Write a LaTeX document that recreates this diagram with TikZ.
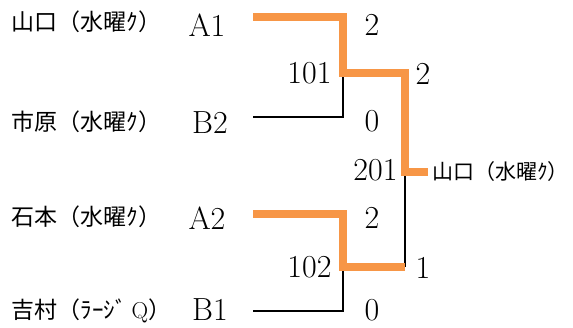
\documentclass[tikz,border=0pt]{standalone}
\usepackage{fontspec}
\newfontfamily\jp{Noto Sans CJK JP}
\definecolor{winorange}{HTML}{F79646}
\tikzset{
  player/.style={anchor=west,font=\jp\fontsize{23}{27}\selectfont},
  seed/.style={font=\fontsize{32}{36}\selectfont},
  score/.style={font=\fontsize{32}{36}\selectfont},
  matchno/.style={anchor=east,font=\fontsize{32}{36}\selectfont},
  lost/.style={line width=1.5pt,black},
  won/.style={line width=7.5pt,winorange,line join=miter},
  wonshadow/.style={line width=7.5pt,black!30,opacity=0.5,shift={(1.5,2)}}
}
\begin{document}
\begin{tikzpicture}[x=1pt,y=-1pt]
      \useasboundingbox (0,0) rectangle (573,327);
      \draw
        (8,22) node[player] (p1){山口（水曜ｸ）}
        (8,122) node[player] (p2){市原（水曜ｸ）}
        (8,217) node[player] (p3){石本（水曜ｸ）}
        (8,311) node[player] (p4){吉村（ﾗｰｼﾞ \textrm{Q}）}
        (207,25) node[seed] (A1){A1}
        (210,123) node[seed] (B2){B2}
        (207,218) node[seed] (A2){A2}
        (210,310) node[seed] (B1){B1}
        (372,25) node[score] (s1){2}
        (372,121) node[score] (s2){0}
        (372,218) node[score] (s3){2}
        (372,310) node[score] (s4){0}
        (423,74) node[score] (s5){2}
        (423,268) node[score] (s6){1}
        (335,73) node[matchno] (m101){101}
        (335,267) node[matchno] (m102){102}
        (401,170) node[matchno] (m201){201}
        (431,172) node[player,inner sep=1pt,font=\jp\fontsize{21}{25}\selectfont] (champ){山口（水曜ｸ）};
      % bracket points
      \coordinate (a1) at (253,17);
      \coordinate (b2) at (253,117);
      \coordinate (a2) at (253,214);
      \coordinate (b1) at (253,311);
      \coordinate (c1) at (343,17);
      \coordinate (c2) at (343,117);
      \coordinate (c3) at (343,214);
      \coordinate (c4) at (343,311);
      \coordinate (j101) at (343,73);
      \coordinate (j102) at (343,267);
      \coordinate (k1) at (405,73);
      \coordinate (k2) at (405,267);
      \coordinate (j201) at (405,172);
      \coordinate (w) at (428,172);
      \begin{scope}[lost]
        \draw (b2) -- (c2) -- (j101);
        \draw (b1) -- (c4) -- (j102);
        \draw (j201) -- (k2);
      \end{scope}
      \begin{scope}
        \draw[wonshadow] (a1) -- (c1) -- (j101) -- (k1) -- (j201) -- (w);
        \draw[wonshadow] (a2) -- (c3) -- (j102) -- (k2);
        \draw[won] (a1) -- (c1) -- (j101) -- (k1) -- (j201) -- (w);
        \draw[won] (a2) -- (c3) -- (j102) -- (k2);
      \end{scope}
    \end{tikzpicture}
\end{document}
